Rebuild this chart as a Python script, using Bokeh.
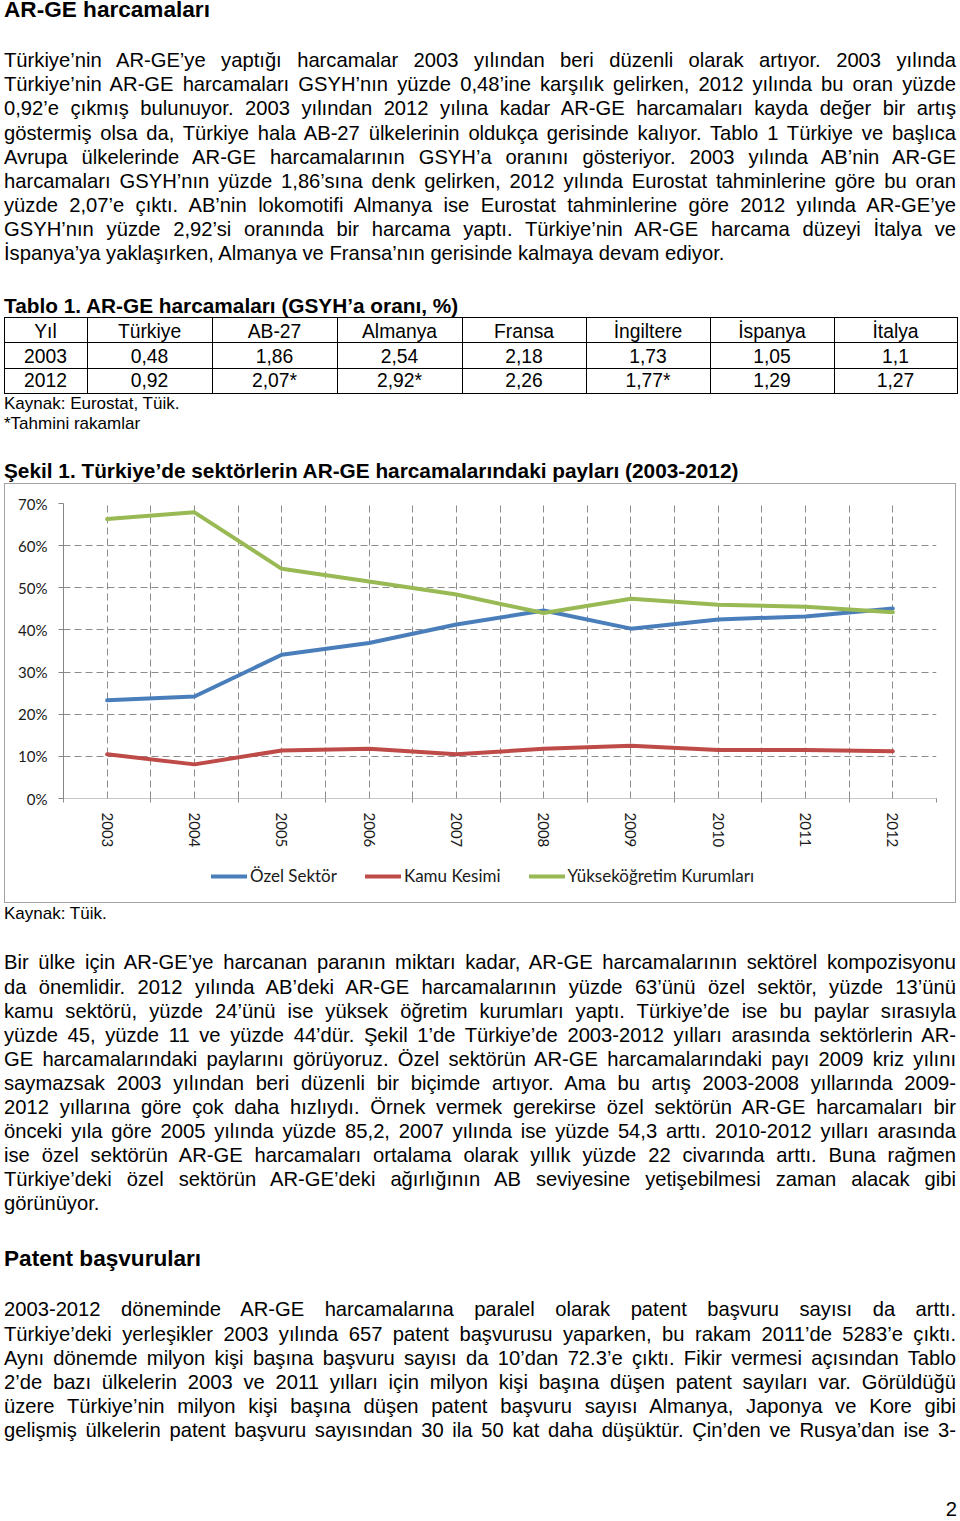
import math
from bokeh.plotting import figure
from bokeh.models import (Range1d, FixedTicker, CustomJSTickFormatter, PrintfTickFormatter,
                          Legend, LegendItem, Div, ColumnDataSource)
from bokeh.layouts import column
from bokeh.embed import file_html
from bokeh.resources import INLINE

# ---------------- chart data (Şekil 1) ----------------
years = ["2003", "2004", "2005", "2006", "2007", "2008", "2009", "2010", "2011", "2012"]
ozel_sektor = [23.3, 24.2, 34.1, 36.9, 41.3, 44.6, 40.3, 42.5, 43.2, 45.1]
kamu_kesimi = [10.5, 8.1, 11.4, 11.8, 10.5, 11.8, 12.5, 11.5, 11.5, 11.2]
yuksekogretim = [66.3, 67.9, 54.5, 51.5, 48.4, 44.0, 47.4, 46.0, 45.5, 44.2]
series_names = ["Özel Sektör", "Kamu Kesimi", "Yükseköğretim Kurumları"]
series_colors = ["#4A7EBB", "#BE4B48", "#98B954"]
y_ticks = [0, 10, 20, 30, 40, 50, 60, 70]

# ---------------- table data (Tablo 1) ----------------
table_header = ["Yıl", "Türkiye", "AB-27", "Almanya", "Fransa", "İngiltere", "İspanya", "İtalya"]
table_2003 = ["2003", "0,48", "1,86", "2,54", "2,18", "1,73", "1,05", "1,1"]
table_2012 = ["2012", "0,92", "2,07*", "2,92*", "2,26", "1,77*", "1,29", "1,27"]

# ---------------- texts ----------------
page_title = "AR-GE harcamaları"
para1 = [
    "Türkiye’nin AR-GE’ye yaptığı harcamalar 2003 yılından beri düzenli olarak artıyor. 2003 yılında",
    "Türkiye’nin AR-GE harcamaları GSYH’nın yüzde 0,48’ine karşılık gelirken, 2012 yılında bu oran yüzde",
    "0,92’e çıkmış bulunuyor. 2003 yılından 2012 yılına kadar AR-GE harcamaları kayda değer bir artış",
    "göstermiş olsa da, Türkiye hala AB-27 ülkelerinin oldukça gerisinde kalıyor. Tablo 1 Türkiye ve başlıca",
    "Avrupa ülkelerinde AR-GE harcamalarının GSYH’a oranını gösteriyor. 2003 yılında AB’nin AR-GE",
    "harcamaları GSYH’nın yüzde 1,86’sına denk gelirken, 2012 yılında Eurostat tahminlerine göre bu oran",
    "yüzde 2,07’e çıktı. AB’nin lokomotifi Almanya ise Eurostat tahminlerine göre 2012 yılında AR-GE’ye",
    "GSYH’nın yüzde 2,92’si oranında bir harcama yaptı. Türkiye’nin AR-GE harcama düzeyi İtalya ve",
    "İspanya’ya yaklaşırken, Almanya ve Fransa’nın gerisinde kalmaya devam ediyor.",
]
table_title = "Tablo 1. AR-GE harcamaları (GSYH’a oranı, %)"
table_source = "Kaynak: Eurostat, Tüik."
table_note = "*Tahmini rakamlar"
chart_title = "Şekil 1. Türkiye’de sektörlerin AR-GE harcamalarındaki payları (2003-2012)"
chart_source = "Kaynak: Tüik."
para2 = [
    "Bir ülke için AR-GE’ye harcanan paranın miktarı kadar, AR-GE harcamalarının sektörel kompozisyonu",
    "da önemlidir. 2012 yılında AB’deki AR-GE harcamalarının yüzde 63’ünü özel sektör, yüzde 13’ünü",
    "kamu sektörü, yüzde 24’ünü ise yüksek öğretim kurumları yaptı. Türkiye’de ise bu paylar sırasıyla",
    "yüzde 45, yüzde 11 ve yüzde 44’dür. Şekil 1’de Türkiye’de 2003-2012 yılları arasında sektörlerin AR-",
    "GE harcamalarındaki paylarını görüyoruz. Özel sektörün AR-GE harcamalarındaki payı 2009 kriz yılını",
    "saymazsak 2003 yılından beri düzenli bir biçimde artıyor. Ama bu artış 2003-2008 yıllarında 2009-",
    "2012 yıllarına göre çok daha hızlıydı. Örnek vermek gerekirse özel sektörün AR-GE harcamaları bir",
    "önceki yıla göre 2005 yılında yüzde 85,2, 2007 yılında ise yüzde 54,3 arttı. 2010-2012 yılları arasında",
    "ise özel sektörün AR-GE harcamaları ortalama olarak yıllık yüzde 22 civarında arttı. Buna rağmen",
    "Türkiye’deki özel sektörün AR-GE’deki ağırlığının AB seviyesine yetişebilmesi zaman alacak gibi",
    "görünüyor.",
]
heading2 = "Patent başvuruları"
para3 = [
    "2003-2012 döneminde AR-GE harcamalarına paralel olarak patent başvuru sayısı da arttı.",
    "Türkiye’deki yerleşikler 2003 yılında 657 patent başvurusu yaparken, bu rakam 2011’de 5283’e çıktı.",
    "Aynı dönemde milyon kişi başına başvuru sayısı da 10’dan 72.3’e çıktı. Fikir vermesi açısından Tablo",
    "2’de bazı ülkelerin 2003 ve 2011 yılları için milyon kişi başına düşen patent sayıları var. Görüldüğü",
    "üzere Türkiye’nin milyon kişi başına düşen patent başvuru sayısı Almanya, Japonya ve Kore gibi",
    "gelişmiş ülkelerin patent başvuru sayısından 30 ila 50 kat daha düşüktür. Çin’den ve Rusya’dan ise 3-",
]
page_number = "2"

# ---------------- HTML helpers ----------------
FONT = "'Liberation Sans', Arial, Helvetica, sans-serif"
BODY = 20.2
LEFT = 4.0
W = 952.0
PITCH = 24.1


def tl(txt, base, size=BODY, bold=False, just=True, left=LEFT, width=W, align="left"):
    top = base - 0.8465 * size
    a = "justify" if just else align
    return ('<div style="position:absolute;left:%.1fpx;top:%.2fpx;width:%.1fpx;'
            'font-family:%s;font-size:%.1fpx;line-height:%.1fpx;font-weight:%s;color:#000;'
            'white-space:nowrap;text-align:%s;text-align-last:%s;">%s</div>'
            % (left, top, width, FONT, size, size, "bold" if bold else "normal", a, a, txt))


def rule(x, y, w, h):
    return ('<div style="position:absolute;left:%.1fpx;top:%.1fpx;width:%.1fpx;height:%.1fpx;'
            'background:#000;"></div>' % (x, y, w, h))


def paragraph(lines, first_base, last_justified=False):
    out = []
    for i, ln in enumerate(lines):
        just = (i < len(lines) - 1) or last_justified
        out.append(tl(ln, first_base + i * PITCH, just=just))
    return out


def block(items, w, h):
    return Div(text='<div style="position:relative;width:%dpx;height:%dpx;overflow:visible;">%s</div>'
               % (w, h, "".join(items)), width=w, height=h, margin=0)


# ---------------- top block (page y 0..483) ----------------
TOP_H = 483
top = []
top.append(tl(page_title, 18.6, size=22.6, bold=True, just=False))
top += paragraph(para1, 67.3)
top.append(tl(table_title, 314.0, size=20.8, bold=True, just=False))

col_x = [4.0, 87.0, 212.0, 337.0, 462.0, 586.0, 710.0, 834.0, 957.0]
row_y = [317.0, 342.0, 368.0, 393.0]
row_base = [338.5, 362.9, 387.0]
for yy in row_y:
    top.append(rule(col_x[0], yy, col_x[-1] - col_x[0] + 1, 1))
for xx in col_x:
    top.append(rule(xx, row_y[0], 1, row_y[-1] - row_y[0] + 1))
for r, row in enumerate([table_header, table_2003, table_2012]):
    for c, cell in enumerate(row):
        top.append(tl(cell, row_base[r], size=19.3, just=False, left=col_x[c],
                      width=col_x[c + 1] - col_x[c], align="center"))
top.append(tl(table_source, 409.5, size=17.0, just=False))
top.append(tl(table_note, 429.0, size=17.0, just=False))
top.append(tl(chart_title, 478.5, size=20.8, bold=True, just=False))

top_div = block(top, 960, TOP_H)

# ---------------- chart (page y 483..860, x 4..958) ----------------
BOX = "1px solid #a3a3a3"
n = len(years)
xs = [i + 0.5 for i in range(n)]
source = ColumnDataSource(dict(x=xs, year=years, ozel=ozel_sektor, kamu=kamu_kesimi, yuksek=yuksekogretim))
series_cols = ["ozel", "kamu", "yuksek"]

p = figure(width=952, height=376, x_range=Range1d(0, n), y_range=Range1d(0, 70),
           output_backend="svg", toolbar_location=None,
           min_border_left=58, min_border_right=21, min_border_top=19, min_border_bottom=62)
p.margin = (0, 0, 0, 4)
p.styles = {"border-top": BOX, "border-left": BOX, "border-right": BOX}
p.outline_line_color = None
p.background_fill_color = "white"
p.border_fill_color = "white"

GRID = "#8c8c8c"
p.xgrid.ticker = FixedTicker(ticks=[k / 2 for k in range(1, 2 * n + 1)])
p.xgrid.grid_line_color = GRID
p.xgrid.grid_line_dash = "7 4"
p.ygrid.ticker = FixedTicker(ticks=y_ticks[1:])
p.ygrid.grid_line_color = GRID
p.ygrid.grid_line_dash = "7 4"

for col, color in zip(series_cols, series_colors):
    p.line("x", col, source=source, line_color=color, line_width=4,
           line_join="round", line_cap="round")

xa = p.xaxis[0]
xa.ticker = FixedTicker(ticks=xs, minor_ticks=list(range(n + 1)))
xa.formatter = CustomJSTickFormatter(args=dict(labels=years),
                                     code="const i = Math.floor(tick); return (i >= 0 && i < labels.length) ? labels[i] : '';")
xa.major_label_orientation = -math.pi / 2
xa.major_tick_line_color = None
xa.major_tick_out = 0
xa.major_tick_in = 0
xa.minor_tick_line_color = GRID
xa.minor_tick_out = 4
xa.minor_tick_in = 0
xa.axis_line_color = GRID
xa.axis_line_dash = "1 1"
xa.major_label_standoff = 10
xa.major_label_text_font = "Lato"
xa.major_label_text_font_size = "15px"
xa.major_label_text_color = "#1a1a1a"

ya = p.yaxis[0]
ya.ticker = FixedTicker(ticks=y_ticks)
ya.formatter = PrintfTickFormatter(format="%d%%")
ya.axis_line_color = "#868686"
ya.major_tick_line_color = "#868686"
ya.major_tick_out = 5
ya.major_tick_in = 0
ya.minor_tick_line_color = None
ya.major_label_standoff = 11
ya.major_label_text_font = "Lato"
ya.major_label_text_font_size = "15px"
ya.major_label_text_color = "#1a1a1a"

# ---------------- legend strip (lower part of the chart box, page y 860..905) ----------------
q = figure(width=952, height=44, x_range=Range1d(0, n), y_range=Range1d(-2, -1),
           output_backend="svg", toolbar_location=None,
           x_axis_location=None, y_axis_location=None,
           min_border_left=0, min_border_right=0, min_border_top=0, min_border_bottom=0)
q.margin = (0, 0, 0, 4)
q.styles = {"border-bottom": BOX, "border-left": BOX, "border-right": BOX}
q.outline_line_color = None
q.xgrid.visible = False
q.ygrid.visible = False
q.background_fill_color = "white"
q.border_fill_color = "white"

# same series, out of this strip's view: only their legend keys show
key_renderers = []
for col, color in zip(series_cols, series_colors):
    key_renderers.append(q.line("x", col, source=source, line_color=color, line_width=4, line_cap="round"))

legend = Legend(items=[LegendItem(label=nm, renderers=[r]) for nm, r in zip(series_names, key_renderers)],
                orientation="horizontal", location=(148, 17),
                glyph_width=36, glyph_height=20, label_standoff=3, spacing=28,
                padding=0, margin=0, border_line_color=None, background_fill_alpha=0,
                label_text_font="Lato", label_text_font_size="17px", label_text_color="#1a1a1a")
q.add_layout(legend)

# ---------------- bottom block (page y 905..1519) ----------------
BOT_Y = 905
BOT_H = 614
bot = []
bot.append(tl(chart_source, 921.0 - BOT_Y, size=17.0, just=False))
bot += paragraph(para2, 971.5 - BOT_Y)
bot.append(tl(heading2, 1269.0 - BOT_Y, size=22.6, bold=True, just=False))
bot += paragraph(para3, 1318.5 - BOT_Y, last_justified=True)
bot.append(tl(page_number, 1518.0 - BOT_Y, size=BODY, just=False, align="right", left=900.0, width=57.0))

bot_div = block(bot, 960, BOT_H)

layout = column(top_div, p, q, bot_div, spacing=0)

open("out.html", "w").write(file_html(layout, INLINE, title="AR-GE harcamaları"))
